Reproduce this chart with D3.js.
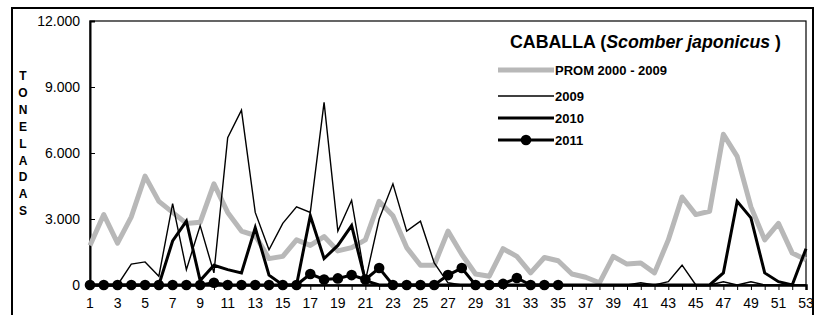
<!DOCTYPE html>
<html><head><meta charset="utf-8">
<script src="https://cdn.jsdelivr.net/npm/d3@7"></script>
<style>body{margin:0;background:#fff}svg{display:block}</style>
</head><body>
<script>
const weeks = d3.range(1, 54);
const prom = [1800,3200,1900,3100,4950,3800,3300,2800,2850,4600,3300,2450,2250,1200,1300,2050,1800,2200,1550,1700,2050,3800,3150,1700,900,900,2450,1400,500,400,1650,1300,550,1250,1100,500,350,100,1300,950,1000,550,2050,4000,3200,3350,6850,5850,3550,2050,2800,1450,1150];
const y2009 = [0,0,0,950,1050,400,3700,700,2700,550,6700,7950,3300,1600,2800,3550,3300,8300,2450,3850,200,3000,4600,2450,2900,1000,100,0,0,0,0,0,0,0,0,0,0,0,0,0,100,0,150,900,0,0,150,0,150,0,0,0,0];
const y2010 = [0,0,0,0,0,0,2000,2900,200,900,700,550,2600,450,0,0,3150,1200,1800,2700,200,0,0,0,0,0,0,0,0,0,0,0,0,0,0,0,0,0,0,0,0,0,0,0,0,0,550,3800,3050,550,150,0,1650];
const y2011 = [0,0,0,0,0,0,0,0,0,100,0,0,0,0,0,0,500,250,300,450,250,770,0,0,0,0,450,770,0,0,50,320,0,0,0];
const yTicks = [0,3000,6000,9000,12000];
const xLabels = weeks.filter(w => w % 2 === 1);
const yTitle = "TONELADAS".split("");

const W = 815, H = 315;
const svg = d3.select("body").append("svg").attr("width", W).attr("height", H)
  .style("font-family", "'Liberation Sans', Arial, sans-serif");

// outer frame
svg.append("rect").attr("x", 12).attr("y", 8).attr("width", 801).attr("height", 320)
  .attr("fill", "none").attr("stroke", "#000").attr("stroke-width", 2);

const x = d3.scalePoint().domain(weeks).range([90, 806]);
const y = d3.scaleLinear().domain([0, 12000]).range([285, 21]);

// plot box
svg.append("rect").attr("x", 90).attr("y", 21).attr("width", 716).attr("height", 264)
  .attr("fill", "none").attr("stroke", "#000").attr("stroke-width", 1.2);

// axes
const fmt = d => d3.format(",")(d).replace(/,/g, ".");
const yAxis = svg.append("g").attr("transform", "translate(90,0)")
  .call(d3.axisRight(y).tickValues(yTicks).tickSize(5).tickFormat(""));
yAxis.select(".domain").attr("stroke-width", 2);
svg.append("g").selectAll("text").data(yTicks).join("text")
  .attr("x", 80).attr("y", d => y(d)).attr("dy", "0.36em").attr("text-anchor", "end")
  .attr("font-size", 14).attr("fill", "#000").text(fmt);

const xAxis = svg.append("g").attr("transform", "translate(0,285)")
  .call(d3.axisBottom(x).tickSize(5).tickFormat(""));
xAxis.select(".domain").attr("stroke-width", 2.5);
svg.append("g").selectAll("text").data(xLabels).join("text")
  .attr("x", d => x(d)).attr("y", 308).attr("text-anchor", "middle")
  .attr("font-size", 14).attr("fill", "#000").text(d => d);

// y title
svg.append("g").selectAll("text").data(yTitle).join("text")
  .attr("x", 23).attr("y", (d, i) => 80 + i * 16.9).attr("text-anchor", "middle")
  .attr("font-size", 12).attr("font-weight", "bold").text(d => d);

const line = d3.line().x((d, i) => x(weeks[i])).y(d => y(d));

svg.append("path").datum(prom).attr("d", line).attr("fill", "none")
  .attr("stroke", "#b8b8b8").attr("stroke-width", 5).attr("stroke-linejoin", "round");
svg.append("path").datum(y2009).attr("d", line).attr("fill", "none")
  .attr("stroke", "#000").attr("stroke-width", 1.4);
svg.append("path").datum(y2010).attr("d", line).attr("fill", "none")
  .attr("stroke", "#000").attr("stroke-width", 3);
svg.append("path").datum(y2011).attr("d", line).attr("fill", "none")
  .attr("stroke", "#000").attr("stroke-width", 3);
svg.append("g").selectAll("circle").data(y2011).join("circle")
  .attr("cx", (d, i) => x(weeks[i])).attr("cy", d => y(d)).attr("r", 5.3).attr("fill", "#000");

// legend
const title = svg.append("text").attr("x", 510).attr("y", 48)
  .attr("font-size", 17.8).attr("font-weight", "bold");
title.append("tspan").text("CABALLA (");
title.append("tspan").attr("font-style", "italic").text("Scomber japonicus");
title.append("tspan").text(" )");

const legend = [
  {name: "PROM 2000 - 2009", stroke: "#b8b8b8", w: 5, y: 70, dot: false},
  {name: "2009", stroke: "#000", w: 1.4, y: 96, dot: false},
  {name: "2010", stroke: "#000", w: 3, y: 118, dot: false},
  {name: "2011", stroke: "#000", w: 3, y: 140, dot: true}
];
const lg = svg.append("g").selectAll("g").data(legend).join("g");
lg.append("line").attr("x1", 498).attr("x2", 554).attr("y1", d => d.y).attr("y2", d => d.y)
  .attr("stroke", d => d.stroke).attr("stroke-width", d => d.w);
lg.filter(d => d.dot).append("circle").attr("cx", 526).attr("cy", d => d.y).attr("r", 5.3).attr("fill", "#000");
lg.append("text").attr("x", 555).attr("y", d => d.y).attr("dy", "0.36em")
  .attr("font-size", 13).attr("font-weight", "bold").text(d => d.name);
</script>
</body></html>
